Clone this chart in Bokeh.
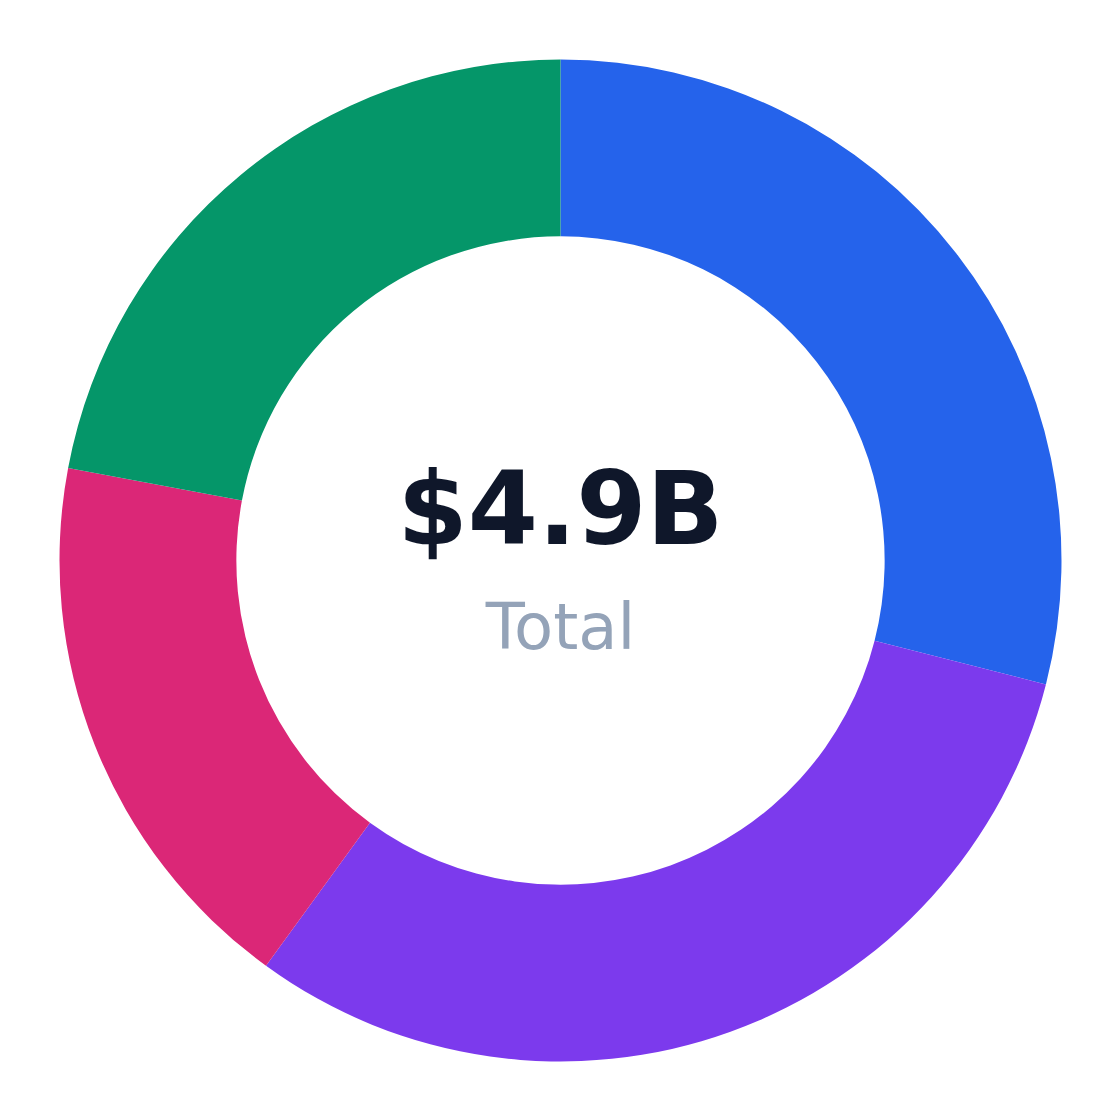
import math
from bokeh.plotting import figure
from bokeh.models import ColumnDataSource, Range1d, Label
from bokeh.embed import file_html
from bokeh.resources import INLINE

categories = ["A", "B", "C", "D"]
values = [1.42, 1.52, 0.88, 1.08]
colors = ["#2563eb", "#7c3aed", "#db2777", "#059669"]
total_label = "$4.9B"
sub_label = "Total"

total = sum(values)
starts, ends = [], []
acc = 0.0
for v in values:
    starts.append(math.pi / 2 - acc / total * 2 * math.pi)
    acc += v
    ends.append(math.pi / 2 - acc / total * 2 * math.pi)

src = ColumnDataSource(dict(cat=categories, val=values, color=colors,
                            start=starts, end=ends))

R = 1120 / 2 / 501.0
p = figure(width=1120, height=1120, output_backend="svg", toolbar_location=None,
           x_range=Range1d(-R, R), y_range=Range1d(-R, R),
           min_border=0)
p.axis.visible = False
p.grid.visible = False
p.outline_line_color = None
p.background_fill_color = "white"
p.border_fill_color = "white"

p.annular_wedge(x=0, y=0, inner_radius=0.647, outer_radius=1.0,
                start_angle="start", end_angle="end", direction="clock",
                fill_color="color", line_color=None, source=src)

p.add_layout(Label(x=0, y=-66 / 501.0, text=sub_label, text_font="DejaVu Sans",
                   text_font_size="64px", text_color="#94a3b8",
                   text_align="center", text_baseline="alphabetic"))
p.add_layout(Label(x=0, y=52 / 501.0, text=total_label, text_font="DejaVu Sans",
                   text_font_style="bold", text_font_size="101px", text_color="#0f172a",
                   text_align="center", text_baseline="alphabetic"))

open("out.html", "w").write(file_html(p, INLINE))
